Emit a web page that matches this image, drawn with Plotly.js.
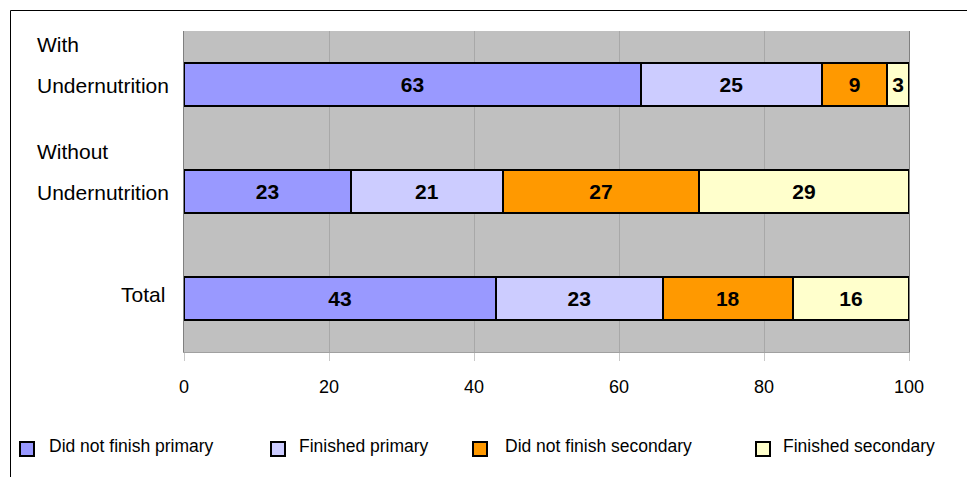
<!DOCTYPE html>
<html>
<head>
<meta charset="utf-8">
<script src="https://cdn.plot.ly/plotly-3.0.1.min.js"></script>
<style>html,body{margin:0;padding:0;background:#fff;}#chart{width:967px;height:477px;}</style>
</head>
<body>
<div id="chart"></div>
<script>
// ---- data ----
var categories = ["With Undernutrition", "Without Undernutrition", "Total"];
var categoryLabelLines = [["With", "Undernutrition"], ["Without", "Undernutrition"], ["Total"]];
var seriesNames = ["Did not finish primary", "Finished primary", "Did not finish secondary", "Finished secondary"];
var didNotFinishPrimary   = [63, 23, 43];
var finishedPrimary       = [25, 21, 23];
var didNotFinishSecondary = [9, 27, 18];
var finishedSecondary     = [3, 29, 16];
var xTickValues = [0, 20, 40, 60, 80, 100];

// ---- styles ----
var colors = ["#9999FF", "#CCCCFF", "#FF9900", "#FFFFCC"];
var seriesValues = [didNotFinishPrimary, finishedPrimary, didNotFinishSecondary, finishedSecondary];
var regular = "Liberation Sans, Arial, sans-serif";

// plot area in pixels
var W = 967, H = 477, L = 184, R = 909, T = 31, B = 352;
function px(x) { return (x - L) / (R - L); }
function py(y) { return (B - y) / (B - T); }

var traces = seriesNames.map(function (name, i) {
  return {
    type: "bar",
    orientation: "h",
    name: name,
    y: categories,
    x: seriesValues[i],
    width: 0.41,
    marker: { color: colors[i], line: { color: "#000", width: 2 } },
    text: seriesValues[i].map(String),
    textposition: "inside",
    insidetextanchor: "middle",
    constraintext: "none",
    textfont: { family: regular, size: 21, color: "#000", weight: 700 },
    hoverinfo: "x+name",
    showlegend: false
  };
});

var annotations = [];
var labelFont = { family: regular, size: 21, color: "#000" };
categories.forEach(function (c, i) {
  var lines = categoryLabelLines[i];
  if (lines.length === 2) {
    annotations.push({ xref: "paper", yref: "y", x: px(35), y: c, xanchor: "left", yanchor: "middle",
      yshift: 40, text: lines[0], showarrow: false, font: labelFont });
    annotations.push({ xref: "paper", yref: "y", x: px(35), y: c, xanchor: "left", yanchor: "middle",
      yshift: -1, text: lines[1], showarrow: false, font: labelFont });
  } else {
    annotations.push({ xref: "paper", yref: "y", x: px(167), y: c, xanchor: "right", yanchor: "middle",
      yshift: 4, text: lines[0], showarrow: false, font: labelFont });
  }
});

// legend (manual)
var legendMarkerX = [27, 278, 480, 763];
var legendTextX = [47, 297, 503, 781];
var shapes = [
  // outer frame
  { type: "rect", xref: "paper", yref: "paper", x0: px(10.5), x1: px(1100), y0: py(10.5), y1: py(600),
    line: { color: "#000", width: 1 }, fillcolor: "rgba(0,0,0,0)", layer: "above" }
];
seriesNames.forEach(function (n, i) {
  shapes.push({ type: "rect", xref: "paper", yref: "paper",
    x0: px(legendMarkerX[i] - 7), x1: px(legendMarkerX[i] + 7), y0: py(456), y1: py(442),
    line: { color: "#000", width: 2 }, fillcolor: colors[i] });
  annotations.push({ xref: "paper", yref: "paper", x: px(legendTextX[i]), y: py(446),
    xanchor: "left", yanchor: "middle", text: n, showarrow: false,
    font: { family: regular, size: 17.5, color: "#000" } });
});

var layout = {
  width: W, height: H,
  margin: { l: L, r: W - R, t: T, b: H - B, pad: 0 },
  paper_bgcolor: "#fff",
  plot_bgcolor: "#C0C0C0",
  barmode: "stack",
  showlegend: false,
  xaxis: {
    range: [0, 100],
    tickvals: xTickValues,
    ticktext: xTickValues.map(String),
    ticks: "outside", ticklen: 8, tickcolor: "#C8C8C8", tickwidth: 1,
    ticklabelstandoff: 10,
    showgrid: true, gridcolor: "#A8A8A8", gridwidth: 1,
    zeroline: false,
    showline: true, linecolor: "#A0A0A0", linewidth: 1, mirror: false,
    tickfont: { family: regular, size: 18, color: "#000" },
    fixedrange: true
  },
  yaxis: {
    type: "category",
    categoryorder: "array",
    categoryarray: categories,
    range: [2.5, -0.5],
    showticklabels: false,
    ticks: "",
    showgrid: false,
    zeroline: false,
    showline: true, linecolor: "#808080", linewidth: 1, mirror: true,
    fixedrange: true
  },
  annotations: annotations,
  shapes: shapes
};

Plotly.newPlot("chart", traces, layout, { displayModeBar: false, staticPlot: true });
</script>
</body>
</html>
